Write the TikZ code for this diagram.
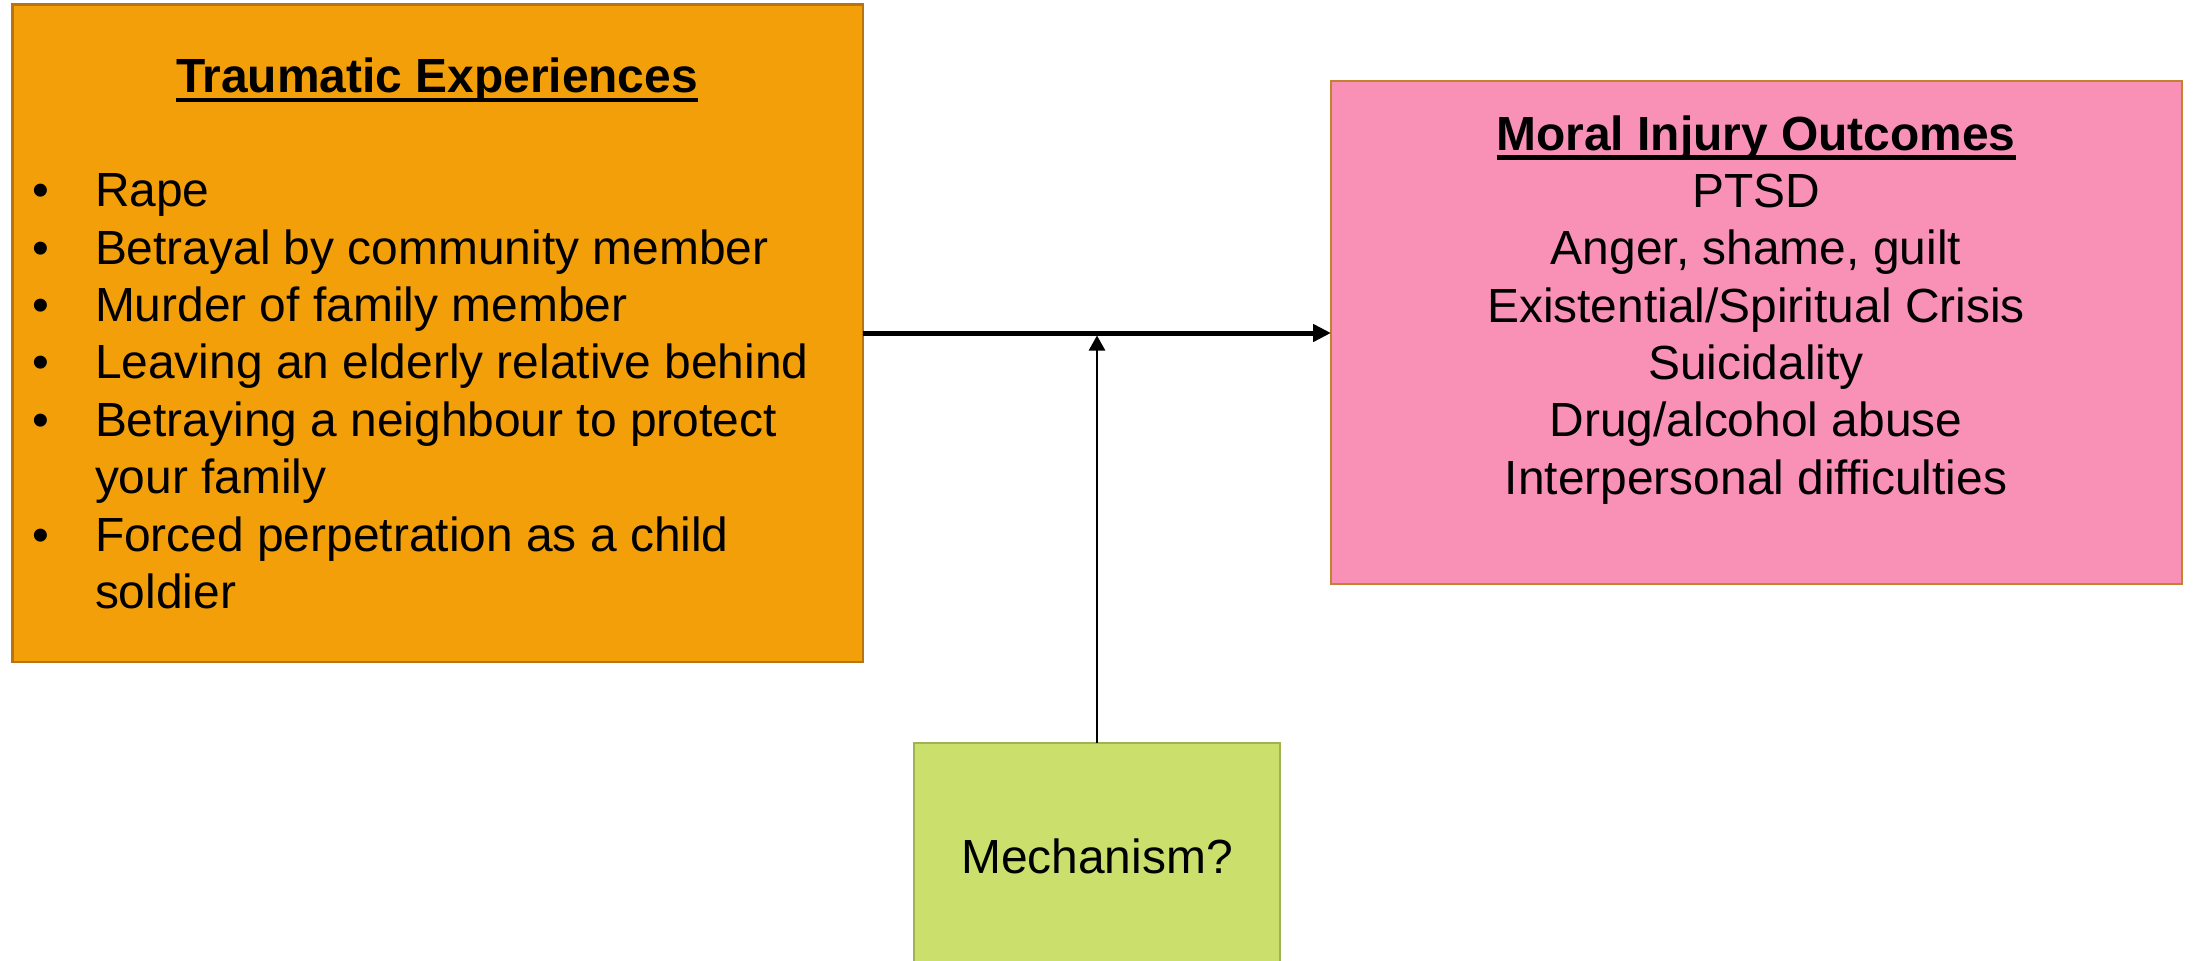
\documentclass[tikz,border=0pt]{standalone}
\usepackage{fontspec}
\setmainfont{Liberation Sans}
\usetikzlibrary{arrows.meta}

\definecolor{traumafill}{RGB}{242,159,10}
\definecolor{traumaline}{RGB}{184,116,16}
\definecolor{outfill}{RGB}{249,145,183}
\definecolor{outline}{RGB}{196,130,48}
\definecolor{mechfill}{RGB}{203,223,108}
\definecolor{mechline}{RGB}{158,180,82}

\begin{document}
\begin{tikzpicture}[x=1pt,y=-1pt,
  box/.style={draw, line width=2.5pt, inner sep=0pt, outer sep=0pt},
  txt/.style={inner sep=0pt, outer sep=0pt, font=\fontsize{47.9}{57.4}\selectfont},
  titletxt/.style={inner sep=0pt, outer sep=0pt, font=\fontsize{47.9}{57.4}\selectfont\bfseries},
  uline/.style={line width=4.5pt},
  bigarrow/.style={line width=5pt, -{Triangle[length=18pt,width=17pt]}},
  smallarrow/.style={line width=2.5pt, -{Triangle[length=15pt,width=16pt]}}]

\useasboundingbox (0,0) rectangle (2193,961);
\clip (0,0) rectangle (2193,961);

% boxes
\node[box, fill=traumafill, draw=traumaline, minimum width=850.5pt, minimum height=657.5pt] (trauma) at (437.6,333) {};
\node[box, fill=outfill, draw=outline, minimum width=851pt, minimum height=503pt] (outcomes) at (1756.5,332.5) {};
\node[box, txt, fill=mechfill, draw=mechline, minimum width=366pt, minimum height=226pt] (mech) at (1097,856) {Mechanism?};

% traumatic experiences
\node[titletxt, anchor=base] (ttitle) at (437,92.3) {Traumatic Experiences};
\draw[uline] ([yshift=-7.5pt]ttitle.base west) -- ([yshift=-7.5pt]ttitle.base east);

\node[txt, anchor=base] (d1) at (41,206.7) {•};
\node[txt, anchor=base west] (t1) at (95,206.7) {Rape};
\node[txt, anchor=base] (d2) at (41,264.1) {•};
\node[txt, anchor=base west] (t2) at (95,264.1) {Betrayal by community member};
\node[txt, anchor=base] (d3) at (41,321.5) {•};
\node[txt, anchor=base west] (t3) at (95,321.5) {Murder of family member};
\node[txt, anchor=base] (d4) at (41,378.9) {•};
\node[txt, anchor=base west] (t4) at (95,378.9) {Leaving an elderly relative behind};
\node[txt, anchor=base] (d5) at (41,436.3) {•};
\node[txt, anchor=base west] (t5) at (95,436.3) {Betraying a neighbour to protect};
\node[txt, anchor=base west] (t5b) at (95,493.7) {your family};
\node[txt, anchor=base] (d6) at (41,551.1) {•};
\node[txt, anchor=base west] (t6) at (95,551.1) {Forced perpetration as a child};
\node[txt, anchor=base west] (t6b) at (95,608.5) {soldier};

% moral injury outcomes
\node[titletxt, anchor=base] (otitle) at (1756,150) {Moral Injury Outcomes};
\draw[uline] ([yshift=-7.5pt]otitle.base west) -- ([yshift=-7.5pt]otitle.base east);
\node[txt, anchor=base] (o1) at (1756,207.3) {PTSD};
\node[txt, anchor=base] (o2) at (1756,264.7) {Anger, shame, guilt};
\node[txt, anchor=base] (o3) at (1756,322.1) {Existential/Spiritual Crisis};
\node[txt, anchor=base] (o4) at (1756,379.5) {Suicidality};
\node[txt, anchor=base] (o5) at (1756,436.9) {Drug/alcohol abuse};
\node[txt, anchor=base] (o6) at (1756,494.3) {Interpersonal difficulties};

% connectors
\draw[bigarrow] (trauma.east) -- (trauma.east -| outcomes.west);
\coordinate (meet) at (mech.north |- trauma.east);
\draw[smallarrow] (mech.north) -- ([yshift=-2.5pt]meet);
\end{tikzpicture}
\end{document}
